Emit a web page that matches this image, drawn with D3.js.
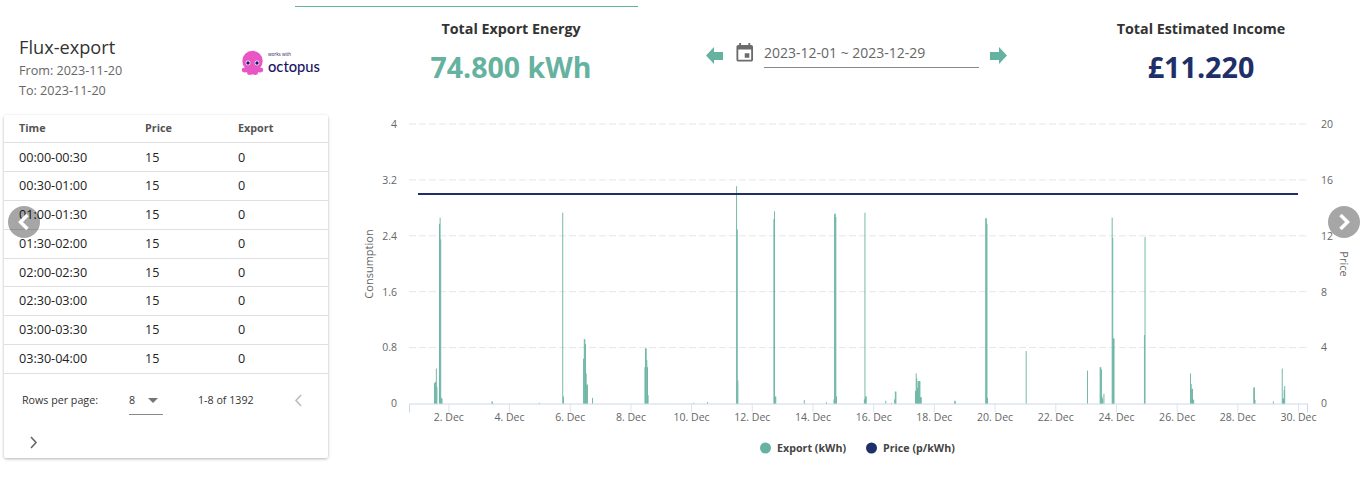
<!DOCTYPE html>
<html>
<head>
<meta charset="utf-8">
<script src="https://cdn.jsdelivr.net/npm/d3@7"></script>
<style>
html,body{margin:0;padding:0;background:#fff;overflow:hidden}
text{font-family:"Open Sans",sans-serif}
</style>
</head>
<body>
<svg id="page" width="1367" height="478"></svg>
<script>
// half hour slots counted in hours from 1 Dec 00:00, only the non zero ones
var exportHours=[13,13.5,14,14.5,15,17,17.5,18,18.5,19,58.5,59,96,114.5,115,131,131.5,132,132.5,133,133.5,134,138,
179.5,180,180.5,181,181.5,182,218,229,252,252.5,253,281.5,282,282.5,283,305.5,323,329,329.5,330,330.5,331,
353,353.5,354,354.5,370,374.5,377,377.5,378,393.5,394,394.5,395,395.5,396,396.5,397,397.5,398,424.5,425,
449,449.5,450,450.5,481,529.5,539.5,540,540.5,541,541.5,542.5,549,549.5,550,550.5,574.5,575,
611,611.5,612,612.5,613,613.5,661,661.5,662,676.5,683.5,684,684.5,685,685.5];
var exportValues=[.29,.3,.31,.5,.24,2.57,2.66,2.35,.08,.07,.03,.02,.01,2.73,.1,.64,.92,.92,.85,.43,.27,.27,.08,
.52,.79,.79,.62,.52,.12,.01,.02,3.11,2.49,.33,2.64,2.75,.1,.1,.05,.02,.06,2.71,2.72,2.67,.1,
.06,2.73,.1,.1,.04,.01,.06,.17,.17,.18,.43,.36,.22,.32,.32,.32,.32,.09,.09,.04,.03,
2.65,2.65,2.57,.08,.75,.47,.52,.52,.49,.1,.07,.14,2.66,2.37,.93,.93,.98,2.38,
.43,.28,.21,.21,.06,.05,.23,.23,.05,.03,.5,.07,.07,.19,.25];
var priceHours=[0,696];
var priceValues=[15,15];
var consumptionTicks=[0,0.8,1.6,2.4,3.2,4];
var priceTicks=[0,4,8,12,16,20];
var dayTicks=[2,4,6,8,10,12,14,16,18,20,22,24,26,28,30];

var rowTimes=["00:00-00:30","00:30-01:00","01:00-01:30","01:30-02:00","02:00-02:30","02:30-03:00","03:00-03:30","03:30-04:00"];
var rowPrices=[15,15,15,15,15,15,15,15];
var rowExports=[0,0,0,0,0,0,0,0];

var teal="#66b2a0", navy="#1f3068";
var svg=d3.select("#page");
var defs=svg.append("defs");
var f=defs.append("filter").attr("id","shadow").attr("x","-5%").attr("y","-5%").attr("width","110%").attr("height","110%");
f.append("feDropShadow").attr("dx",0).attr("dy",1).attr("stdDeviation",1.5).attr("flood-color","#000").attr("flood-opacity",.3);

function label(x,y,str,size,color,weight,anchor){
	return svg.append("text").attr("x",x).attr("y",y).text(str)
		.style("font-size",size+"px").style("fill",color)
		.style("font-weight",weight||400).attr("text-anchor",anchor||"start");
}

//top strip
svg.append("rect").attr("x",295).attr("y",6).attr("width",343).attr("height",1).attr("fill",teal);

//title
label(19,54,"Flux-export",18.2,"#333");
label(19,75,"From: 2023-11-20",12.6,"#666");
label(19,95,"To: 2023-11-20",12.6,"#666");

//octopus logo
var logo=svg.append("g").attr("transform","translate(252.5,61)").attr("fill","#ea55c6");
logo.append("circle").attr("cx",0).attr("cy",0).attr("r",10.2);
logo.append("ellipse").attr("cx",0).attr("cy",8).attr("rx",7).attr("ry",5.5);
logo.append("ellipse").attr("cx",-7.5).attr("cy",9).attr("rx",3.2).attr("ry",2.4);
logo.append("ellipse").attr("cx",7.5).attr("cy",9).attr("rx",3.2).attr("ry",2.4);
logo.append("ellipse").attr("cx",-3).attr("cy",12).attr("rx",2.4).attr("ry",2);
logo.append("ellipse").attr("cx",3).attr("cy",12).attr("rx",2.4).attr("ry",2);
logo.append("circle").attr("cx",-4.5).attr("cy",2).attr("r",2.4).attr("fill","#fff");
logo.append("circle").attr("cx",4.5).attr("cy",2).attr("r",2.4).attr("fill","#fff");
logo.append("circle").attr("cx",-4.5).attr("cy",2).attr("r",1.7).attr("fill","#1b1464");
logo.append("circle").attr("cx",4.5).attr("cy",2).attr("r",1.7).attr("fill","#1b1464");
label(268,56,"works with",4.6,"#1b1464");
label(268,71.5,"octopus",14.7,"#1b1464",500).style("font-family","Lato");

//headline numbers
label(511,34,"Total Export Energy",14.3,"#333",700,"middle");
label(511,78,"74.800 kWh",28.5,teal,700,"middle");
label(1201,34,"Total Estimated Income",14.3,"#333",700,"middle");
label(1201,78,"£11.220",28.7,navy,700,"middle");

//date picker
var arrow=d3.line();
svg.append("path").attr("fill",teal).attr("d",arrow([[706,55.5],[714,47],[714,52],[723,52],[723,60],[714,60],[714,64]])+"Z");
svg.append("path").attr("fill",teal).attr("d",arrow([[1007,55.5],[999,47],[999,52],[990,52],[990,60],[999,60],[999,64]])+"Z");
svg.append("path").attr("fill","#6b6b6b").attr("fill-rule","evenodd").attr("transform","translate(733.7,42.2) scale(.92)")
	.attr("d","M19 3h-1V1h-2v2H8V1H6v2H5C3.9 3 3 3.9 3 5v14c0 1.1.9 2 2 2h14c1.1 0 2-.9 2-2V5c0-1.1-.9-2-2-2zm0 16H5V8h14v11zM12 12h5v5h-5z");
label(764,58,"2023-12-01 ~ 2023-12-29",14,"#666");
svg.append("rect").attr("x",764).attr("y",67).attr("width",215).attr("height",1).attr("fill","#888");

//table card
svg.append("rect").attr("x",4).attr("y",115).attr("width",324).attr("height",343).attr("rx",3)
	.attr("fill","#fff").attr("filter","url(#shadow)");
label(19,132,"Time",10.8,"#555",700);
label(145,132,"Price",10.8,"#555",700);
label(238,132,"Export",10.8,"#555",700);
var lineY=d3.scaleLinear().domain([0,8]).range([142.5,373.5]);
var rowY=d3.scaleLinear().domain([0,8]).range([142.5,372.5]);
svg.append("g").selectAll("line").data(d3.range(9)).enter().append("line")
	.attr("x1",4).attr("x2",328).attr("y1",function(d){return Math.floor(lineY(d))+.5}).attr("y2",function(d){return Math.floor(lineY(d))+.5})
	.attr("stroke","#e0e0e0");
rowTimes.forEach(function(t,i){
	var y=rowY(i+.5)+4.7;
	label(19,y,t,12.6,"#222");
	label(145,y,rowPrices[i],12.6,"#222");
	label(238,y,rowExports[i],12.6,"#222");
});
label(22,404,"Rows per page:",10.7,"#333");
label(129,404,"8",10.7,"#333");
svg.append("path").attr("fill","#757575").attr("d",arrow([[148,398],[158,398],[153,403]])+"Z");
svg.append("rect").attr("x",129).attr("y",414).attr("width",34).attr("height",1).attr("fill","#888");
label(198,404,"1-8 of 1392",10.7,"#333");
svg.append("path").attr("fill","none").attr("stroke","#bdbdbd").attr("stroke-width",1.6).attr("d",arrow([[301,395],[296,400.5],[301,406]]));
svg.append("path").attr("fill","none").attr("stroke","#666").attr("stroke-width",1.6).attr("d",arrow([[31,437],[36,442.5],[31,448]]));

//chart scales
var x=d3.scaleLinear().domain([-7.1,703.1]).range([409,1307]);
var yLeft=d3.scaleLinear().domain([0,4]).range([403.5,124]);
var yRight=d3.scaleLinear().domain([0,20]).range([403.5,124]);
var chart=svg.append("g");

//gridlines
chart.append("g").selectAll("line").data(consumptionTicks.slice(1)).enter().append("line")
	.attr("x1",409).attr("x2",1307).attr("y1",function(d){return yLeft(d)}).attr("y2",function(d){return yLeft(d)})
	.attr("stroke","#e6e6e6").attr("stroke-width",1).attr("stroke-dasharray","7,3");

//axes
var axisL=d3.axisLeft(yLeft).tickValues(consumptionTicks).tickFormat(d3.format("")).tickSize(0);
var gL=chart.append("g").attr("transform","translate(400,0)").call(axisL);
gL.select(".domain").remove();
var axisR=d3.axisRight(yRight).tickValues(priceTicks).tickSize(0);
var gR=chart.append("g").attr("transform","translate(1318,0)").call(axisR);
gR.select(".domain").remove();
var axisB=d3.axisBottom(x).tickValues(dayTicks.map(function(d){return (d-1)*24}))
	.tickFormat(function(h){return (h/24+1)+". Dec"}).tickSize(9).tickPadding(1);
var gB=chart.append("g").attr("transform","translate(0,403.5)").call(axisB);
gB.select(".domain").attr("stroke","#ccd6eb");
gB.selectAll(".tick line").attr("stroke","#dde3f3");
chart.selectAll(".tick text").style("font-family","'Open Sans'").style("font-size","10.5px").style("fill","#666");

//export columns
var hours=d3.range(exportHours.length);
chart.append("g").attr("fill",teal).selectAll("rect").data(hours).enter().append("rect")
	.attr("x",function(i){return x(exportHours[i])-.45})
	.attr("width",.9)
	.attr("y",function(i){return yLeft(exportValues[i])})
	.attr("height",function(i){return yLeft(0)-yLeft(exportValues[i])});

//price line
var priceLine=d3.line().x(function(i){return x(priceHours[i])}).y(function(i){return yRight(priceValues[i])});
chart.append("path").attr("d",priceLine(d3.range(priceHours.length))).attr("fill","none").attr("stroke",navy).attr("stroke-width",2);

//axis titles
label(0,0,"Consumption",11,"#666",400,"middle").attr("transform","translate(373,264) rotate(-90)");
label(0,0,"Price",11,"#666",400,"middle").attr("transform","translate(1340,264) rotate(90)");

//legend
svg.append("circle").attr("cx",765.5).attr("cy",448).attr("r",5.5).attr("fill",teal);
label(777,452,"Export (kWh)",10.7,"#444",700);
svg.append("circle").attr("cx",871.5).attr("cy",448).attr("r",5.5).attr("fill",navy);
label(883,452,"Price (p/kWh)",10.7,"#444",700);

//carousel buttons
[[24,222,-1],[1344,222,1]].forEach(function(b){
	svg.append("circle").attr("cx",b[0]).attr("cy",b[1]).attr("r",16).attr("fill","#000").attr("opacity",.35);
	svg.append("path").attr("fill","none").attr("stroke","#fff").attr("stroke-width",3.5)
		.attr("d",arrow([[b[0]-3.5*b[2],b[1]-7],[b[0]+3.5*b[2],b[1]],[b[0]-3.5*b[2],b[1]+7]]));
});
</script>
</body>
</html>
